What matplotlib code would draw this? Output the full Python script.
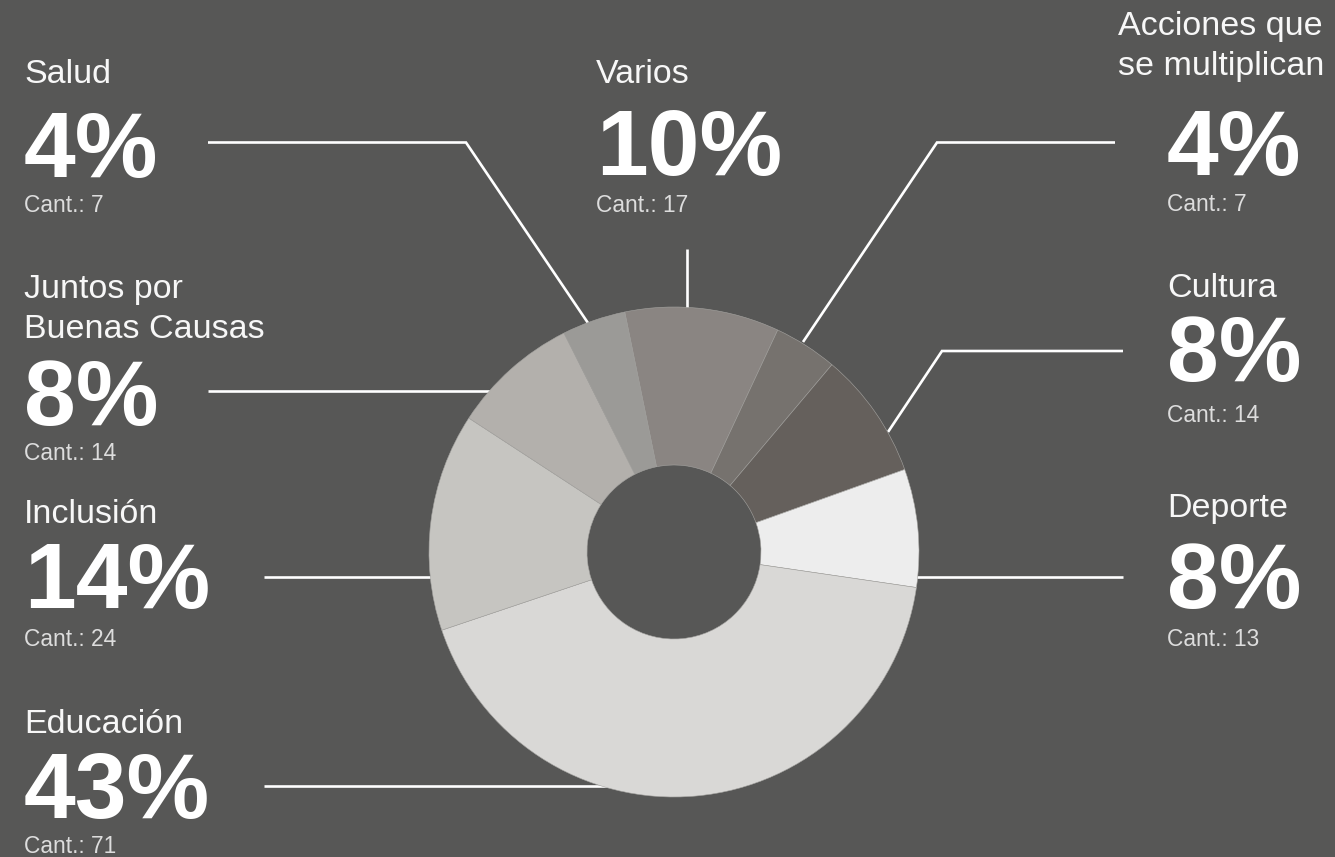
import matplotlib.pyplot as plt

# === Data ===
categories = ["Varios", "Acciones que\nse multiplican", "Cultura", "Deporte",
              "Educación", "Inclusión", "Juntos por\nBuenas Causas", "Salud"]
counts = [17, 7, 14, 13, 71, 24, 14, 7]
colors = ["#8a8582", "#76726e", "#65605c", "#ededed",
          "#d9d8d6", "#c6c5c1", "#b3b0ac", "#9b9a97"]

# === Layout (pixels, origin top-left) ===
W, H = 1335, 857
BG = "#575756"
# x, label baseline (first line), percent baseline, cant baseline
text_pos = {
    "Varios": (596, 83, 175, 212),
    "Acciones que\nse multiplican": (1118, 35, 175, 211),
    "Cultura": (1167, 297, 381, 422),
    "Deporte": (1167, 517, 608, 646),
    "Educación": (24, 733, 818, 853),
    "Inclusión": (24, 523, 608, 646),
    "Juntos por\nBuenas Causas": (24, 298, 425, 460),
    "Salud": (24, 83, 177, 212),
}
pct_x = {"Acciones que\nse multiplican": 1167}
leaders = {
    "Salud": [(208, 142.5), (466, 142.5), (588, 323)],
    "Varios": [(687, 249), (687, 320)],
    "Acciones que\nse multiplican": [(1115, 142.5), (937, 142.5), (803, 342)],
    "Cultura": [(1123, 351), (942, 351), (888, 432)],
    "Deporte": [(1123, 577), (900, 577)],
    "Educación": [(264, 786), (640, 786)],
    "Inclusión": [(264, 577), (450, 577)],
    "Juntos por\nBuenas Causas": [(208, 391), (500, 391)],
}


def fy(y):
    return H - y


fig = plt.figure(figsize=(W / 100, H / 100), dpi=100, facecolor=BG)
ax = fig.add_axes([0, 0, 1, 1])
ax.set_facecolor(BG)

# leader lines behind the donut
for name, pts in leaders.items():
    ax.plot([p[0] for p in pts], [fy(p[1]) for p in pts], color="white",
            lw=1.9, solid_capstyle="butt", solid_joinstyle="miter", zorder=1)

ax.pie(counts, colors=colors, startangle=101.6, counterclock=False,
       center=(674, fy(552)), radius=245,
       wedgeprops=dict(width=158, edgecolor="#a5a4a1", linewidth=0.4, zorder=2))

ax.set_xlim(0, W)
ax.set_ylim(0, H)
ax.axis("off")

total = sum(counts)
for name, c in zip(categories, counts):
    x, yl, yp, yc = text_pos[name]
    for i, line in enumerate(name.split("\n")):
        ax.text(x, fy(yl + 40 * i), line, color="#f7f7f7", fontsize=24.5,
                family="Liberation Sans", va="baseline", ha="left", zorder=3)
    ax.text(pct_x.get(name, x), fy(yp), f"{round(100 * c / total)}%",
            color="white", fontsize=67, fontweight="bold",
            family="Liberation Sans", va="baseline", ha="left", zorder=3)
    ax.text(pct_x.get(name, x), fy(yc), f"Cant.: {c}", color="#dddddd",
            fontsize=16.4, family="Liberation Sans", va="baseline",
            ha="left", zorder=3)

fig.savefig("out.png", dpi=100, facecolor=BG)
